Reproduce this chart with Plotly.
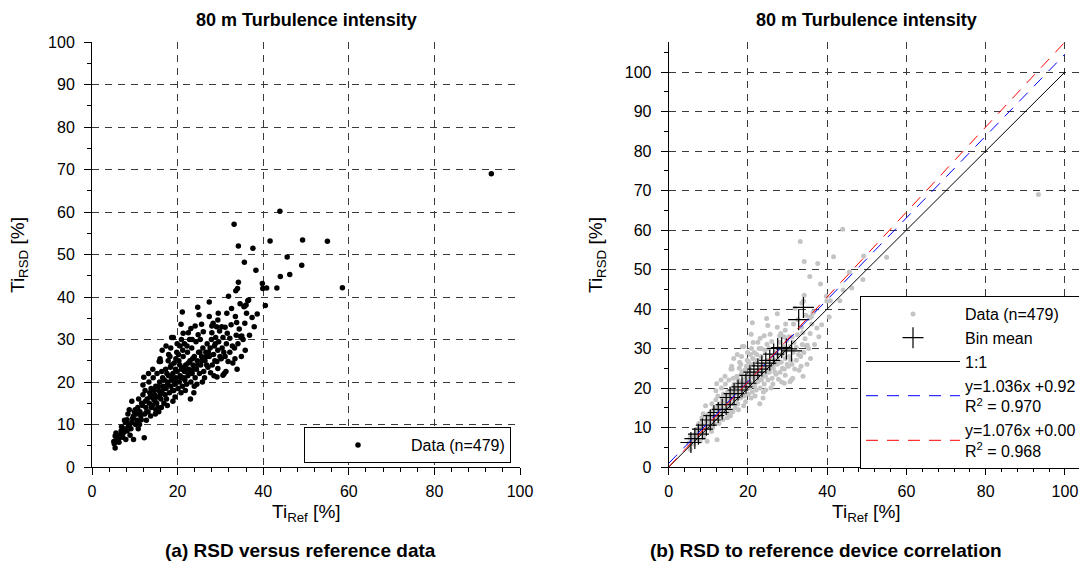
import plotly.graph_objects as go

# turbulence intensity pairs (Ti_Ref, Ti_RSD) in %
low_points = [
    (5.1, 6.0), (5.4, 7.3), (5.4, 4.5), (5.7, 6.5), (5.2, 5.5), (5.9, 7.0), (5.6, 8.0),
    (6.1, 6.0), (6.4, 7.5), (6.8, 8.5), (6.3, 5.8), (6.9, 9.5), (6.6, 7.0),
    (7.2, 7.0), (7.5, 9.0), (7.8, 10.5), (7.3, 8.0), (7.9, 6.5), (7.6, 11.0),
    (8.2, 8.5), (8.2, 11.1), (8.5, 9.5), (8.8, 10.0), (8.4, 12.5), (8.9, 7.5), (8.7, 13.5),
    (9.1, 9.0), (9.3, 10.5), (9.7, 12.0), (9.3, 15.5), (9.7, 6.5), (9.5, 11.5), (9.9, 13.0),
    (10.2, 10.0), (10.4, 12.5), (10.7, 14.0), (10.9, 16.0), (10.5, 11.0), (10.8, 9.0), (10.1, 13.5),
    (11.5, 11.1), (11.2, 13.0), (11.6, 15.0), (11.9, 17.0), (11.4, 12.0), (11.8, 14.5), (11.9, 19.3),
    (12.2, 6.9), (11.1, 10.0),
    (12.3, 12.5), (12.6, 14.0), (12.9, 16.0), (12.4, 18.0), (12.1, 21.1), (12.8, 13.0), (12.5, 15.5),
    (12.7, 11.0),
    (13.1, 13.0), (13.4, 15.0), (13.6, 16.5), (13.8, 18.5), (13.3, 20.0), (13.9, 14.0), (13.5, 17.5),
    (13.7, 12.0), (13.2, 22.0),
    (14.1, 14.5), (14.4, 16.0), (14.6, 17.0), (14.9, 19.0), (14.3, 21.0), (14.7, 15.5), (14.5, 18.0),
    (14.8, 12.5), (14.2, 23.0), (14.9, 13.5),
]

core_points = [
    (15.1, 15.0), (15.3, 16.5), (15.6, 18.0), (15.8, 20.0), (15.2, 22.0), (15.9, 17.0), (15.5, 19.0),
    (15.7, 24.8), (15.4, 14.0), (15.9, 25.5), (15.6, 13.0),
    (16.1, 16.0), (16.4, 17.5), (16.6, 19.0), (16.9, 20.5), (16.3, 22.5), (16.7, 18.5), (16.5, 21.0),
    (16.0, 24.8), (16.4, 27.5), (16.8, 15.0), (16.2, 14.0),
    (17.1, 17.0), (17.3, 18.5), (17.6, 20.0), (17.9, 21.5), (17.2, 23.0), (17.7, 19.5), (17.5, 22.0),
    (17.8, 25.0), (17.4, 16.0), (17.9, 26.5), (17.3, 28.5), (17.6, 14.5),
    (18.1, 17.5), (18.4, 19.0), (18.6, 20.5), (18.9, 22.0), (18.3, 23.5), (18.7, 21.0), (18.5, 24.0),
    (18.2, 26.0), (18.8, 18.0), (18.4, 28.0), (18.9, 15.5), (18.6, 30.5),
    (19.1, 18.0), (19.3, 19.5), (19.6, 21.0), (19.9, 22.5), (19.2, 24.5), (19.7, 20.0), (19.5, 23.0),
    (19.8, 27.0), (19.4, 16.5), (19.0, 30.5), (19.6, 25.5), (19.9, 29.0),
    (20.1, 18.5), (20.4, 20.0), (20.6, 21.5), (20.9, 23.0), (20.3, 25.0), (20.7, 21.0), (20.5, 24.0),
    (20.2, 26.5), (20.8, 17.5), (20.6, 28.5), (20.8, 33.6), (20.9, 30.0),
    (21.1, 19.0), (21.4, 21.0), (21.6, 22.5), (21.9, 24.0), (21.3, 26.0), (21.7, 20.5), (21.5, 23.5),
    (21.2, 27.5), (21.1, 36.5), (21.3, 31.5), (21.8, 18.0), (21.6, 29.0),
    (22.1, 19.5), (22.4, 21.5), (22.6, 23.0), (22.9, 25.0), (22.3, 27.0), (22.7, 22.0), (22.5, 24.5),
    (22.2, 28.5), (22.5, 31.6), (23.0, 16.0), (22.8, 30.0),
    (23.1, 20.0), (23.4, 22.0), (23.6, 24.0), (23.9, 26.0), (23.3, 28.0), (23.7, 23.0), (23.5, 25.5),
    (23.1, 32.6), (23.8, 17.5), (23.4, 30.0), (23.9, 19.0),
    (24.1, 21.0), (24.4, 23.0), (24.6, 25.0), (24.9, 27.0), (24.3, 29.5), (24.7, 24.0), (24.1, 33.2),
    (24.7, 37.6), (24.8, 31.1), (24.5, 19.5),
]

upper_points = [
    (25.1, 22.0), (25.4, 24.0), (25.6, 26.0), (25.9, 28.0), (25.3, 30.0), (25.7, 25.0), (25.0, 35.8),
    (25.6, 33.6), (25.8, 20.0), (25.2, 27.0),
    (26.1, 22.5), (26.4, 25.0), (26.6, 27.0), (26.9, 29.0), (26.0, 31.8), (26.7, 26.0), (26.3, 21.0),
    (26.8, 24.0),
    (27.1, 23.5), (27.4, 26.0), (27.6, 28.0), (27.9, 30.0), (27.4, 35.4), (27.4, 38.8), (28.0, 33.2),
    (28.0, 31.6), (27.7, 22.2), (27.2, 27.0),
    (28.1, 24.0), (28.4, 26.5), (28.6, 28.5), (28.9, 30.5), (28.3, 33.8), (28.7, 25.0), (28.5, 21.5),
    (28.8, 29.0),
    (29.2, 24.8), (29.4, 27.5), (29.6, 29.5), (29.8, 32.0), (29.4, 34.6), (29.5, 36.2), (29.1, 33.0),
    (29.4, 23.2), (29.2, 21.2), (29.9, 26.0),
    (30.2, 25.5), (30.4, 28.0), (30.6, 30.5), (30.3, 33.0), (30.6, 21.6), (30.8, 27.0), (30.9, 22.0),
    (31.1, 26.0), (31.4, 29.0), (31.6, 31.5), (31.5, 36.2), (31.1, 32.9), (31.9, 40.2), (31.8, 24.8),
    (31.3, 22.5),
    (32.2, 27.0), (32.2, 30.3), (32.6, 37.3), (32.5, 33.5), (32.9, 24.5), (32.8, 28.5),
    (33.3, 28.0), (33.5, 35.4), (33.8, 34.0), (33.6, 41.5), (34.0, 42.0), (33.4, 25.5), (33.7, 31.0),
    (33.9, 23.0), (33.2, 57.1),
    (34.1, 29.0), (34.7, 30.7), (34.6, 38.4), (34.2, 43.5), (34.2, 52.0), (34.9, 26.0), (34.4, 32.5),
    (35.0, 30.8),
    (35.7, 33.8), (35.7, 37.9), (35.6, 48.2), (35.5, 37.7), (35.3, 30.0), (35.8, 27.5),
    (36.1, 36.2), (36.0, 38.1), (36.4, 39.1), (36.6, 39.3), (36.8, 31.0),
    (37.4, 35.2), (37.6, 51.5), (37.9, 33.0), (38.3, 46.3), (38.6, 36.0),
    (39.8, 43.2), (39.9, 42.0), (40.8, 42.1), (40.5, 38.0), (41.6, 53.2),
]

outlier_points = [
    (43.2, 42.1), (43.9, 60.2), (44.0, 44.8), (45.6, 49.4), (46.2, 45.3),
    (49.0, 47.5), (49.2, 53.4), (55.0, 53.1), (58.5, 42.2), (93.3, 69.0),
]

# bin means of the RSD against the reference
bin_ref = [5.6, 6.6, 7.5, 8.5, 9.5, 10.5, 11.4, 12.5, 13.5, 14.5, 15.5, 16.5, 17.5, 18.5,
           19.5, 20.5, 21.5, 22.5, 23.5, 24.5, 25.5, 26.5, 27.5, 28.5, 29.7, 31.0, 32.8, 34.0]
bin_rsd = [6.2, 7.2, 8.3, 9.6, 10.6, 11.9, 13.0, 13.8, 14.6, 15.8, 17.6, 18.6, 19.5, 20.3,
           21.2, 23.2, 24.0, 24.8, 25.6, 26.3, 27.0, 28.6, 30.0, 30.2, 29.9, 29.4, 37.3, 40.4]

# linear fits (slope, offset, R^2)
fit_blue = (1.036, 0.92, 0.970)
fit_red = (1.076, 0.00, 0.968)
line_x = [0, 100]

all_points = low_points + core_points + upper_points + outlier_points
ti_ref = [p[0] for p in all_points]
ti_rsd = [p[1] for p in all_points]
n = 479

FONT = "Liberation Sans, Arial, sans-serif"
W, H = 1087, 571
OFF = 8  # the page body margin shifts the figure by 8 px


def px_x(p):
    return (p - OFF) / W


def px_y(p):
    return 1 - (p - OFF) / H


fig = go.Figure()

# (a) raw data
fig.add_trace(go.Scatter(x=ti_ref, y=ti_rsd, mode="markers", name=f"Data (n={n})",
                         marker=dict(color="black", size=5.5), xaxis="x", yaxis="y",
                         legend="legend", showlegend=True))

# (b) correlation
fig.add_trace(go.Scatter(x=ti_ref, y=ti_rsd, mode="markers", name=f"Data (n={n})",
                         marker=dict(color="#c4c4c4", size=5), xaxis="x2", yaxis="y2",
                         legend="legend2", showlegend=True))
fig.add_trace(go.Scatter(x=bin_ref, y=bin_rsd, mode="markers", name="Bin mean",
                         marker=dict(symbol="cross-thin", size=15, line=dict(color="black", width=1.2)),
                         xaxis="x2", yaxis="y2", legend="legend2", showlegend=True))
fig.add_trace(go.Scatter(x=line_x, y=line_x, mode="lines", name="1:1",
                         line=dict(color="black", width=1), xaxis="x2", yaxis="y2",
                         legend="legend2", showlegend=True))
for (k, d, r2), col in [(fit_blue, "blue"), (fit_red, "red")]:
    fig.add_trace(go.Scatter(x=line_x, y=[k * v + d for v in line_x], mode="lines",
                             name=f"y={k:.3f}x +{d:.2f}<br>R<sup>2</sup> = {r2:.3f}",
                             line=dict(color=col, width=1, dash="12px,9px"),
                             xaxis="x2", yaxis="y2", legend="legend2", showlegend=True))

tick_font = dict(family=FONT, size=16, color="black")
grid = dict(showgrid=True, gridcolor="#3a3a3a", griddash="7px,6px", gridwidth=1,
            zeroline=False, showline=True, linecolor="black", linewidth=1, automargin=False,
            ticks="outside", ticklen=7, tickcolor="black", tickfont=tick_font)
minor_x = dict(dtick=4, ticks="outside", ticklen=4, tickcolor="black", showgrid=False)
minor_y = dict(dtick=5, ticks="outside", ticklen=4, tickcolor="black", showgrid=False)

x_dom_a = [px_x(92), px_x(520)]
x_dom_b = [px_x(668.7), px_x(1082)]
y_dom = [px_y(467), px_y(42)]

fig.update_layout(
    width=W, height=H, autosize=False, showlegend=True,
    margin=dict(l=0, r=0, t=0, b=0, autoexpand=False),
    plot_bgcolor="white", paper_bgcolor="white",
    font=dict(family=FONT, size=16, color="black"),
    xaxis=dict(domain=x_dom_a, range=[0, 100], dtick=20, anchor="y", minor=minor_x,
               ticklabelstandoff=3, **grid),
    yaxis=dict(domain=y_dom, range=[0, 100], dtick=10, anchor="x", minor=minor_y,
               ticklabelstandoff=6, **grid),
    xaxis2=dict(domain=x_dom_b, range=[0, 104.3], dtick=20, anchor="y2", minor=minor_x,
                ticklabelstandoff=3, **grid),
    yaxis2=dict(domain=y_dom, range=[0, 107.6], dtick=10, anchor="x2", minor=minor_y,
                ticklabelstandoff=6, **grid),
    legend=dict(x=px_x(511), y=px_y(427), xanchor="right", yanchor="top",
                bordercolor="black", borderwidth=1, bgcolor="white",
                font=dict(family=FONT, size=16), itemwidth=96),
    legend2=dict(x=px_x(1082), y=px_y(296), xanchor="right", yanchor="top",
                 bordercolor="black", borderwidth=1, bgcolor="white",
                 font=dict(family=FONT, size=16), itemwidth=94, tracegroupgap=0),
)

ann = []


def label(x, y, text, size, **kw):
    opts = dict(x=px_x(x), y=px_y(y), xref="paper", yref="paper", text=text, showarrow=False,
                xanchor="center", yanchor="middle", font=dict(family=FONT, size=size))
    opts.update(kw)
    ann.append(opts)


for cx in ((92 + 520) / 2, (668.7 + 1065) / 2):
    label(cx, 20, "<b>80 m Turbulence intensity</b>", 18)
    label(cx, 513, "Ti<sub>Ref</sub> [%]", 19)
for xp in (19, 597):
    label(xp, 255, "Ti<sub>RSD</sub> [%]", 19, textangle=-90)
label(300, 550, "<b>(a) RSD versus reference data</b>", 19)
label(648, 550, "<b>(b) RSD to reference device correlation</b>", 19, xanchor="left")
fig.update_layout(annotations=ann)

fig.write_html("out.html")
